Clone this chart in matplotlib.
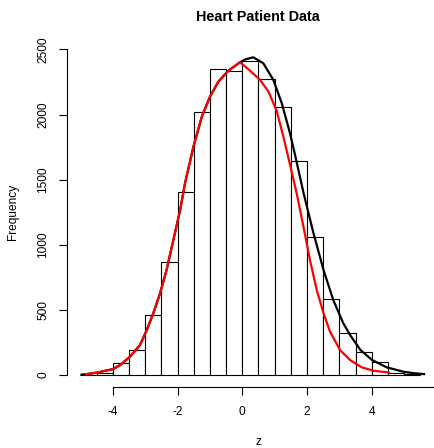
import matplotlib
matplotlib.use("Agg")
import matplotlib.pyplot as plt
import numpy as np

# --- DATA ---
bin_edges = [-5.0, -4.5, -4.0, -3.5, -3.0, -2.5, -2.0, -1.5, -1.0, -0.5, 0.0,
             0.5, 1.0, 1.5, 2.0, 2.5, 3.0, 3.5, 4.0, 4.5, 5.0, 5.5]
counts = [3, 15, 90, 192, 458, 870, 1408, 2018, 2350, 2332, 2412,
          2276, 2061, 1644, 1060, 581, 325, 177, 97, 12, 4]

# red curve
red_z = [-4.86, -4.5, -4.0, -3.77, -3.47, -3.16, -2.95, -2.75, -2.54, -2.34,
         -2.13, -1.92, -1.77, -1.51, -1.25, -1.0, -0.74, -0.43, -0.07, 0.24,
         0.55, 0.81, 1.06, 1.27, 1.47, 1.68, 1.89, 2.09, 2.30, 2.51, 2.71,
         3.02, 3.33, 3.69, 4.05, 4.56]
red_y = [5, 18, 45, 77, 141, 230, 346, 474, 627, 806,
         1037, 1267, 1472, 1753, 1984, 2137, 2253, 2337, 2402, 2337,
         2266, 2176, 2030, 1830, 1620, 1395, 1139, 883, 653, 474, 333,
         192, 115, 59, 33, 18]

# black curve (left half sits under the red one)
black_z = [-5.0, -4.86, -4.5, -4.0, -3.77, -3.47, -3.16, -2.95, -2.75, -2.54,
           -2.34, -2.13, -1.92, -1.77, -1.51, -1.25, -1.0, -0.74, -0.43, -0.07,
           0.1, 0.34, 0.65, 0.96, 1.22, 1.47, 1.63, 1.89, 2.2, 2.51, 2.81,
           3.12, 3.33, 3.65, 4.01, 4.46, 4.98, 5.3, 5.65]
black_y = [2, 5, 18, 45, 77, 141, 230, 346, 474, 627,
           806, 1037, 1267, 1472, 1753, 1984, 2137, 2253, 2337, 2402,
           2425, 2440, 2394, 2266, 2087, 1860, 1690, 1400, 1088, 806, 576,
           397, 307, 192, 115, 59, 25, 14, 6]

x_ticks = [-4, -2, 0, 2, 4]
y_ticks = [0, 500, 1000, 1500, 2000, 2500]

# --- LAYOUT (pixel based, 434x448 @ 100 dpi) ---
W, H = 434, 448
plt.rcParams['font.family'] = ['Liberation Sans', 'DejaVu Sans']
fig = plt.figure(figsize=(W / 100, H / 100), dpi=100)

px_x0, px_scale = 242.3, 32.37      # z = 0 pixel, pixels per unit z
py_y0, py_scale = 375.0, 0.1302     # count = 0 pixel, pixels per count
ax_l, ax_r, ax_t, ax_b = 66.7, W, 40.0, 387.3
ax = fig.add_axes([ax_l / W, 1 - ax_b / H, (ax_r - ax_l) / W, (ax_b - ax_t) / H])
ax.set_xlim((ax_l - px_x0) / px_scale, (ax_r - px_x0) / px_scale)
ax.set_ylim((py_y0 - ax_b) / py_scale, (py_y0 - ax_t) / py_scale)

lefts = np.array(bin_edges[:-1])
widths = np.diff(bin_edges)
ax.bar(lefts, counts, width=widths, align='edge', facecolor='white',
       edgecolor='black', linewidth=0.8)

ax.plot(black_z, black_y, color='black', linewidth=1.6, solid_capstyle='butt')
ax.plot(red_z, red_y, color='red', linewidth=1.6, solid_capstyle='butt')

# R-style detached axes; the x axis runs on past the cropped right edge
for s in ['top', 'right']:
    ax.spines[s].set_visible(False)
ax.spines['left'].set_bounds(0, 2500)
ax.spines['bottom'].set_bounds(-4, 6)
for s in ['left', 'bottom']:
    ax.spines[s].set_linewidth(0.8)
ax.set_xticks(x_ticks)
ax.set_xticklabels([str(t) for t in x_ticks])
ax.set_yticks(y_ticks)
ax.set_yticklabels([str(t) for t in y_ticks], rotation=90, va='center')
ax.tick_params(axis='both', direction='out', length=5.5, width=0.8,
               labelsize=8.6, pad=8)
ax.tick_params(axis='y', pad=7)

fig.text(258 / W, 1 - 17 / H, "Heart Patient Data", ha='center', va='center',
         fontsize=10.4, fontweight='bold')
fig.text(258 / W, 1 - 442 / H, "z", ha='center', va='center', fontsize=8.6)
fig.text(13 / W, 1 - 212 / H, "Frequency", ha='center', va='center',
         rotation=90, fontsize=8.6)

fig.savefig("out.png", dpi=100)
